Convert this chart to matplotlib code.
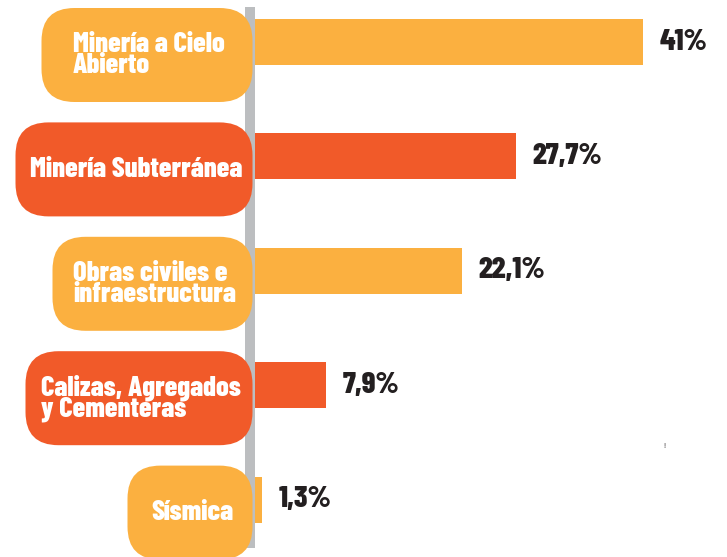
import numpy as np
import matplotlib
matplotlib.use("Agg")
import matplotlib.pyplot as plt
from matplotlib.patches import FancyBboxPatch

# data
categorias = ["Minería a Cielo\nAbierto", "Minería Subterránea",
              "Obras civiles e\ninfraestructura", "Calizas, Agregados\ny Cementeras",
              "Sísmica"]
valores = [41, 27.7, 22.1, 7.9, 1.3]
etiquetas = ["41%", "27,7%", "22,1%", "7,9%", "1,3%"]

# styles
claro = "#FBB040"
oscuro = "#F15A29"
colores = [claro, oscuro, claro, oscuro, claro]
ancho_caja_px = [211, 237, 200, 227, 125]

W, H = 727, 557
px_x = 393 / 41.0      # pixels per % unit
px_y = 114.4           # pixels per category step
x0_px = 250
y0_px = 42

plt.rcParams['font.family'] = ['Barlow Condensed', 'DejaVu Sans']

fig = plt.figure(figsize=(W / 100, H / 100), dpi=100)
ax = fig.add_axes([0, 0, 1, 1])
ax.set_xlim(-x0_px / px_x, (W - x0_px) / px_x)
ax.set_ylim((H - y0_px) / px_y, -y0_px / px_y)
ax.axis('off')

pos = np.arange(len(valores))
ax.barh(pos, valores, height=46 / px_y, color=colores, zorder=1)

# gray axis line
ax.plot([0, 0], [(7 - y0_px) / px_y, (548 - y0_px) / px_y], color="#BCBEC0",
        lw=7.2, solid_capstyle='butt', zorder=2)

alto = 94 / px_y
radio = 33 / px_x
derecha = 2.5 / px_x
for i, (cat, col, w) in enumerate(zip(categorias, colores, ancho_caja_px)):
    yc = i + 13 / px_y
    ancho = w / px_x
    caja = FancyBboxPatch((derecha - ancho, yc - alto / 2), ancho, alto,
                          boxstyle=f"round,pad=0,rounding_size={radio}",
                          mutation_aspect=px_x / px_y, fc=col, ec='none', zorder=3)
    ax.add_patch(caja)
    ax.text(derecha - ancho / 2 + 2 / px_x, yc, cat, ha='center', va='center',
            multialignment='left', color='white', fontsize=20.5, fontweight=800,
            linespacing=0.78, zorder=4)

for i, (v, t) in enumerate(zip(valores, etiquetas)):
    ax.annotate(t, (v, i), xytext=(12, 0), textcoords='offset points', ha='left',
                va='center', fontsize=22, fontweight=800, color='#231F20')

ax.text((664 - x0_px) / px_x, (447 - y0_px) / px_y, "!", fontsize=6, color='#231F20',
        ha='center', va='center')

fig.savefig("out.png", dpi=100)
